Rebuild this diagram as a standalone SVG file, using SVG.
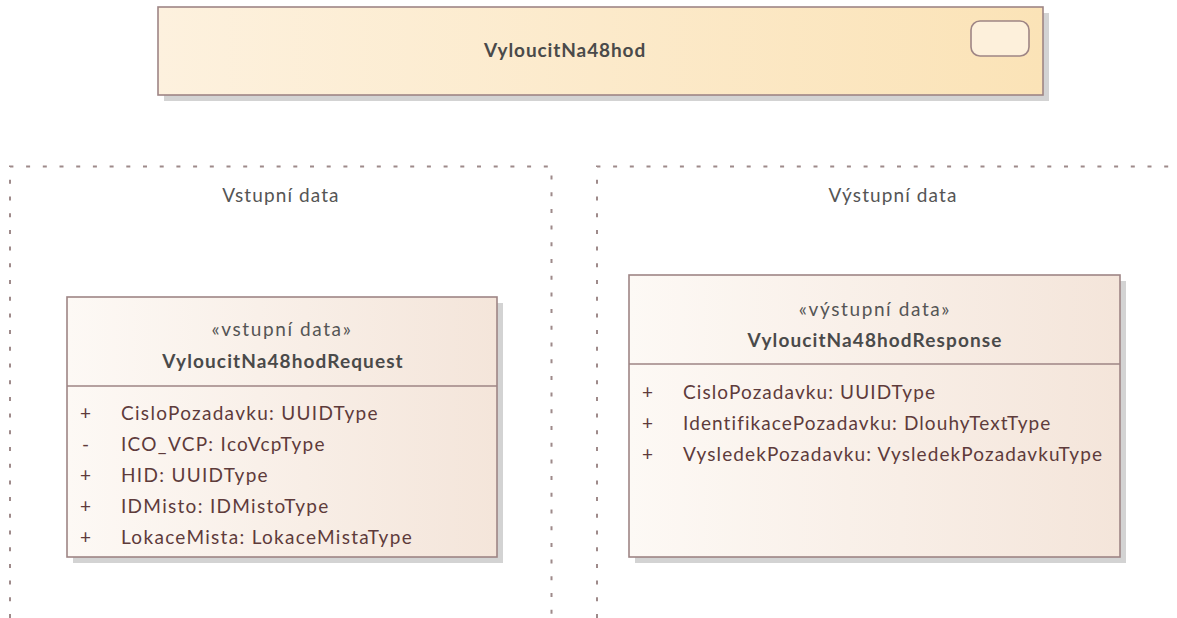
<svg xmlns="http://www.w3.org/2000/svg" width="1177" height="618" viewBox="0 0 1177 618">
  <defs>
    <linearGradient id="gTop" x1="0" y1="0" x2="1" y2="0">
      <stop offset="0" stop-color="#fdf1de"/>
      <stop offset="1" stop-color="#fbe3b7"/>
    </linearGradient>
    <linearGradient id="gCls" x1="0" y1="0" x2="1" y2="0">
      <stop offset="0" stop-color="#fdf9f5"/>
      <stop offset="1" stop-color="#f4e5da"/>
    </linearGradient>
    <style>
      .shadow { fill: #d3d3d3; }
      .box { stroke: #9e8585; stroke-width: 1.6; }
      .frame { fill: none; stroke: #9e8a8a; stroke-width: 2; stroke-dasharray: 4 12.7; }
      text { font-family: Lato, "Liberation Sans", sans-serif; font-size: 19px; }
      .title { font-weight: bold; fill: #4a4a4a; text-anchor: middle; letter-spacing: 0.9px; }
      .stereo { fill: #555555; text-anchor: middle; letter-spacing: 1.6px; }
      .name { font-weight: bold; fill: #4a4a4a; text-anchor: middle; letter-spacing: 1.1px; }
      .attr { fill: #5e3b3b; letter-spacing: 1.1px; }
      .attrL { letter-spacing: 1.3px; }
      .vis { fill: #5e3b3b; text-anchor: middle; }
      .lbl { fill: #555555; text-anchor: middle; letter-spacing: 1.1px; }
    </style>
  </defs>

  <g id="frames">
    <g id="frame-vstupni">
      <path class="frame" d="M10 618 V166.5 H551.5 V618"/>
      <text class="lbl" x="281" y="202">Vstupní data</text>
    </g>
    <g id="frame-vystupni">
      <path class="frame" d="M597 618 V166.5 H1177"/>
      <text class="lbl" x="893" y="202">Výstupní data</text>
    </g>
  </g>

  <g id="node-activity">
    <rect class="shadow" x="164" y="13" width="885" height="88"/>
    <rect class="box" x="158" y="7" width="885" height="88" fill="url(#gTop)"/>
    <rect class="box" x="971" y="21" width="58" height="35" rx="9" fill="#fdf0db" stroke-width="2"/>
    <text class="title" x="565" y="57">VyloucitNa48hod</text>
  </g>

  <g id="node-request">
    <rect class="shadow" x="73" y="303" width="430" height="260"/>
    <rect class="box" x="67" y="297" width="430" height="260" fill="url(#gCls)"/>
    <line class="box" x1="67" y1="386" x2="497" y2="386"/>
    <text class="stereo" x="282" y="336">«vstupní data»</text>
    <text class="name" x="283" y="368">VyloucitNa48hodRequest</text>
    <text class="vis" x="85.5" y="420">+</text>
    <text class="attr attrL" x="121" y="420">CisloPozadavku: UUIDType</text>
    <text class="vis" x="85.5" y="451">-</text>
    <text class="attr attrL" x="121" y="451">ICO_VCP: IcoVcpType</text>
    <text class="vis" x="85.5" y="482">+</text>
    <text class="attr attrL" x="121" y="482">HID: UUIDType</text>
    <text class="vis" x="85.5" y="513">+</text>
    <text class="attr attrL" x="121" y="513">IDMisto: IDMistoType</text>
    <text class="vis" x="85.5" y="544">+</text>
    <text class="attr attrL" x="121" y="544">LokaceMista: LokaceMistaType</text>
  </g>

  <g id="node-response">
    <rect class="shadow" x="635" y="281" width="491" height="282"/>
    <rect class="box" x="629" y="275" width="491" height="282" fill="url(#gCls)"/>
    <line class="box" x1="629" y1="364" x2="1120" y2="364"/>
    <text class="stereo" x="875" y="316">«výstupní data»</text>
    <text class="name" x="875" y="347">VyloucitNa48hodResponse</text>
    <text class="vis" x="647.5" y="399">+</text>
    <text class="attr" x="683" y="399">CisloPozadavku: UUIDType</text>
    <text class="vis" x="647.5" y="430">+</text>
    <text class="attr" x="683" y="430">IdentifikacePozadavku: DlouhyTextType</text>
    <text class="vis" x="647.5" y="461">+</text>
    <text class="attr" x="683" y="461">VysledekPozadavku: VysledekPozadavkuType</text>
  </g>

  <g id="connectors"></g>
</svg>
